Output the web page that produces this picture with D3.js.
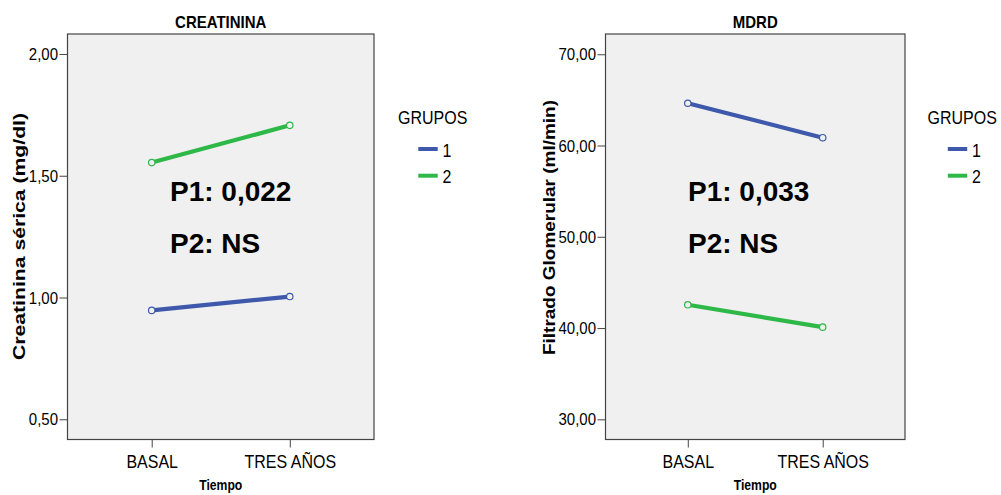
<!DOCTYPE html>
<html>
<head>
<meta charset="utf-8">
<script src="https://cdn.jsdelivr.net/npm/d3@7"></script>
<style>
  body { margin: 0; background: #fff; }
  svg { display: block; }
  text { font-family: "Liberation Sans", Arial, sans-serif; fill: #000; }
</style>
</head>
<body>
<svg id="chart" width="1001" height="495"></svg>
<script>
// Time points (x categories) and groups
const timepoints = ["BASAL", "TRES AÑOS"];
const groupNames = ["1", "2"];
const groupColors = ["#3e58ac", "#2eb848"];

// Serum creatinine means (mg/dl) per group
const creatininaGrupo1 = [0.947, 1.004];
const creatininaGrupo2 = [1.554, 1.707];

// MDRD glomerular filtration means (ml/min) per group
const mdrdGrupo1 = [64.63, 60.86];
const mdrdGrupo2 = [42.55, 40.10];

// Y tick values
const creatininaTicks = [0.5, 1.0, 1.5, 2.0];
const mdrdTicks = [30, 40, 50, 60, 70];

// Significance annotations
const creatininaPText = ["P1: 0,022", "P2: NS"];
const mdrdPText = ["P1: 0,033", "P2: NS"];

const panels = [
  {
    title: "CREATININA", yLabel: "Creatinina sérica (mg/dl)",
    series: [creatininaGrupo1, creatininaGrupo2], ticks: creatininaTicks,
    domain: [0.417, 2.082], pText: creatininaPText,
    x0: 67.5, x1: 374, yLabelX: 25, yLabelY: 236.5, yLabelLen: 247,
    pX: 170, legendX: 398
  },
  {
    title: "MDRD", yLabel: "Filtrado Glomerular (ml/min)",
    series: [mdrdGrupo1, mdrdGrupo2], ticks: mdrdTicks,
    domain: [27.79, 72.22], pText: mdrdPText,
    x0: 605.5, x1: 905, yLabelX: 555, yLabelY: 227.5, yLabelLen: 255,
    pX: 688, legendX: 927.5
  }
];

const plotTop = 34, plotBottom = 439.5;
const SY = 1.15; // vertical stretch of the axis typography
const fmt = v => d3.format(".2f")(v).replace(".", ",");

const svg = d3.select("#chart");

panels.forEach(p => {
  const g = svg.append("g");
  const x = d3.scalePoint().domain(timepoints).range([p.x0, p.x1]).padding(0.61);
  const y = d3.scaleLinear().domain(p.domain).range([plotBottom, plotTop]);
  const cx = (p.x0 + p.x1) / 2;

  // plot area
  g.append("rect")
    .attr("x", p.x0).attr("y", plotTop)
    .attr("width", p.x1 - p.x0).attr("height", plotBottom - plotTop)
    .attr("fill", "#f0f0f0").attr("stroke", "#444").attr("stroke-width", 1.2);

  // y axis
  const ya = g.append("g").attr("transform", `translate(${p.x0},0)`)
    .call(d3.axisLeft(y).tickValues(p.ticks).tickSize(8).tickPadding(1.5).tickFormat(fmt));
  ya.select(".domain").remove();
  ya.selectAll(".tick line").attr("stroke", "#444");
  ya.selectAll(".tick text")
    .attr("font-size", 15).attr("font-family", null)
    .attr("transform", `scale(1,1.08)`).attr("dy", "0.34em");

  // x axis
  const xa = g.append("g").attr("transform", `translate(0,${plotBottom})`)
    .call(d3.axisBottom(x).tickSize(8));
  xa.select(".domain").remove();
  xa.selectAll(".tick line").attr("stroke", "#444");
  xa.selectAll(".tick text")
    .attr("font-size", 16).attr("font-family", null)
    .attr("y", 24.6).attr("dy", 0)
    .attr("transform", `scale(1,${SY})`);

  // title
  g.append("text")
    .attr("transform", `translate(${cx},28) scale(1,${SY})`)
    .attr("text-anchor", "middle").attr("font-weight", "bold").attr("font-size", 15)
    .text(p.title);

  // x axis title
  g.append("text")
    .attr("transform", `translate(${cx},490) scale(1,${SY})`)
    .attr("text-anchor", "middle").attr("font-weight", "bold").attr("font-size", 12.2)
    .text("Tiempo");

  // y axis title
  g.append("text")
    .attr("transform", `translate(${p.yLabelX},${p.yLabelY}) rotate(-90)`)
    .attr("text-anchor", "middle").attr("font-weight", "bold").attr("font-size", 16.5)
    .attr("textLength", p.yLabelLen).attr("lengthAdjust", "spacingAndGlyphs")
    .text(p.yLabel);

  // group lines and markers
  const line = d3.line().x((d, i) => x(timepoints[i])).y(d => y(d));
  p.series.forEach((vals, k) => {
    g.append("path").datum(vals)
      .attr("d", line).attr("fill", "none")
      .attr("stroke", groupColors[k]).attr("stroke-width", 4.2);
    g.selectAll(null).data(vals).enter().append("circle")
      .attr("cx", (d, i) => x(timepoints[i])).attr("cy", d => y(d))
      .attr("r", 3.2).attr("fill", "#eef2ee")
      .attr("stroke", groupColors[k]).attr("stroke-width", 1.2);
  });

  // significance annotations
  p.pText.forEach((t, i) => {
    g.append("text")
      .attr("x", p.pX).attr("y", [201, 252.5][i])
      .attr("font-weight", "bold").attr("font-size", 28)
      .text(t);
  });

  // legend
  const lg = g.append("g");
  lg.append("text")
    .attr("transform", `translate(${p.legendX},124.3) scale(1,${SY})`)
    .attr("font-size", 16).text("GRUPOS");
  groupNames.forEach((name, k) => {
    const ly = 149 + k * 26.7;
    lg.append("line")
      .attr("x1", p.legendX + 20.3).attr("x2", p.legendX + 39.7)
      .attr("y1", ly).attr("y2", ly)
      .attr("stroke", groupColors[k]).attr("stroke-width", 4);
    lg.append("text")
      .attr("transform", `translate(${p.legendX + 44.5},${ly + 7.7}) scale(1,${SY})`)
      .attr("font-size", 16).text(name);
  });
});
</script>
</body>
</html>
